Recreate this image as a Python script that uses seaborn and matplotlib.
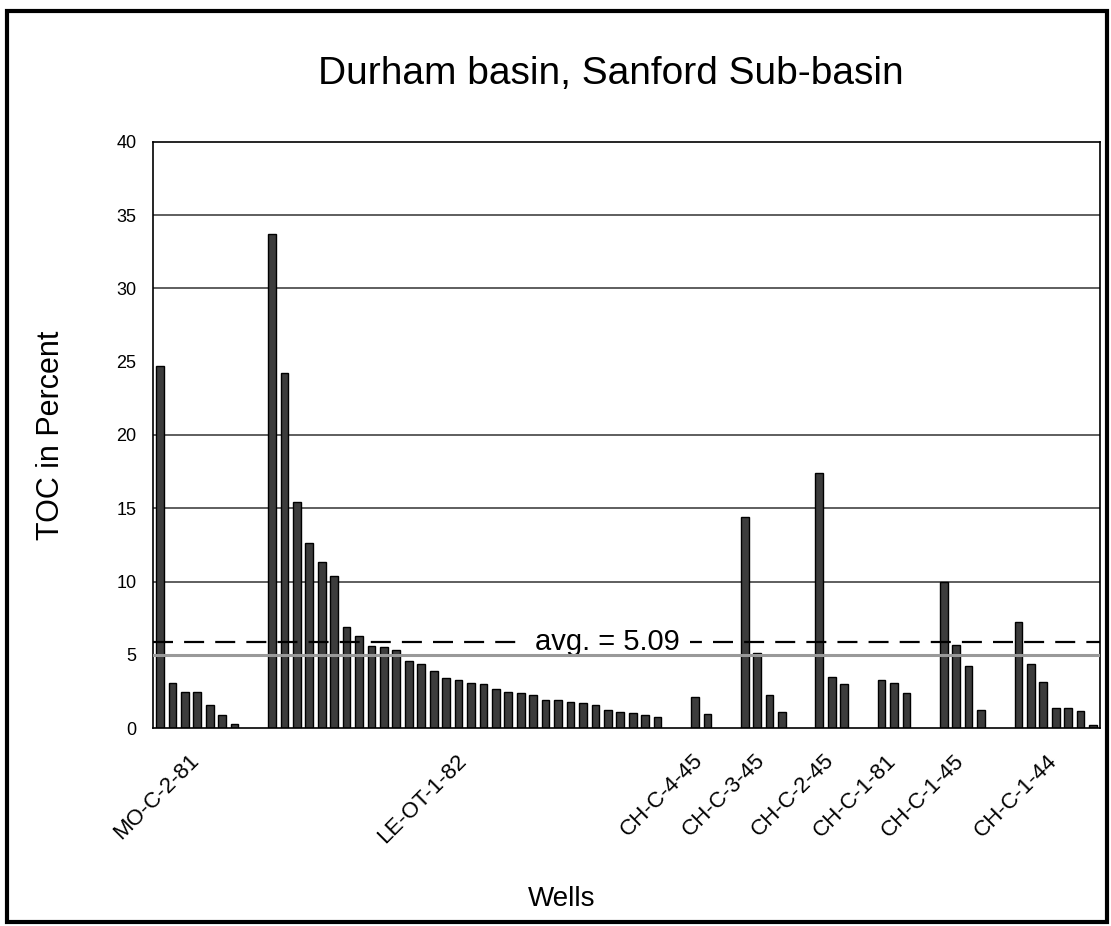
import numpy as np
import pandas as pd
import matplotlib.pyplot as plt
from matplotlib.patches import Rectangle
import seaborn as sns

sns.set_theme(style="white")
plt.rcParams["font.family"] = ["Liberation Sans", "DejaVu Sans"]
plt.rcParams.update({"text.color": "black", "axes.labelcolor": "black",
                     "xtick.color": "black", "ytick.color": "black"})

# TOC values (percent) per well
wells = ["MO-C-2-81", "LE-OT-1-82", "CH-C-4-45", "CH-C-3-45",
         "CH-C-2-45", "CH-C-1-81", "CH-C-1-45", "CH-C-1-44"]
mo_c_2_81 = [24.7, 3.05, 2.45, 2.45, 1.55, 0.9, 0.25]
le_ot_1_82 = [33.7, 24.2, 15.4, 12.6, 11.3, 10.4, 6.9, 6.3, 5.6, 5.5, 5.3,
              4.6, 4.4, 3.9, 3.4, 3.3, 3.05, 3.0, 2.65, 2.45, 2.4, 2.25,
              1.9, 1.9, 1.8, 1.7, 1.6, 1.25, 1.1, 1.0, 0.9, 0.75]
ch_c_4_45 = [2.1, 0.95]
ch_c_3_45 = [14.4, 5.1, 2.25, 1.1]
ch_c_2_45 = [17.4, 3.5, 3.0]
ch_c_1_81 = [3.3, 3.1, 2.4]
ch_c_1_45 = [10.0, 5.7, 4.2, 1.2]
ch_c_1_44 = [7.25, 4.4, 3.15, 1.4, 1.4, 1.15, 0.2]
groups = [mo_c_2_81, le_ot_1_82, ch_c_4_45, ch_c_3_45,
          ch_c_2_45, ch_c_1_81, ch_c_1_45, ch_c_1_44]

avg_line = 5.9
avg_label = "avg. = 5.09"
grid_levels = [10, 15, 20, 30, 35]

# lay the samples out one slot each, two empty slots between wells
rows = []
centers = []
slot = 0
for name, vals in zip(wells, groups):
    start = slot
    for v in vals:
        rows.append({"slot": slot, "toc": v, "well": name})
        slot += 1
    centers.append((start + slot - 1) / 2)
    slot += 2
df = pd.DataFrame(rows)
last = df["slot"].max()

fig = plt.figure(figsize=(11.11, 9.26), dpi=100)
ax = fig.add_axes([0.1377, 0.2138, 0.8524, 0.6329])

ax.hlines(grid_levels, -1, last + 1, color="#333333", lw=1.1, zorder=0)
ax.hlines([5], -1, last + 1, color="#999999", lw=2.2, zorder=5)

sns.barplot(data=df, x="slot", y="toc", native_scale=True, width=0.62,
            color="#3c3c3c", edgecolor="black", linewidth=1.0,
            saturation=1, ax=ax, zorder=2)

ax.axhline(avg_line, color="black", lw=1.6, ls=(0, (9, 5)), zorder=3)
ax.text(centers[1] + 11.5, avg_line, avg_label, fontsize=21, ha="center",
        va="center", zorder=4,
        bbox=dict(facecolor="white", edgecolor="none", pad=7))

ax.set_xlim(-0.56, last + 0.56)
ax.set_ylim(0, 40)
ax.set_yticks(np.arange(0, 41, 5))
ax.tick_params(axis="y", labelsize=13, length=0, pad=12)
ax.set_xticks([c - 0.7 for c in centers])
ax.set_xticklabels(wells, rotation=45, ha="right", va="top",
                   rotation_mode="anchor", fontsize=16)
ax.tick_params(axis="x", length=0, pad=16)
ax.set_xlabel("Wells", fontsize=20)
ax.xaxis.set_label_coords(0.432, -0.27)
ax.set_ylabel("TOC in Percent", fontsize=22)
ax.yaxis.set_label_coords(-0.092, 0.5)
for sp in ax.spines.values():
    sp.set_color("black")
    sp.set_linewidth(1.2)

fig.suptitle("Durham basin, Sanford Sub-basin", fontsize=28, x=0.55, y=0.94)

fig.patches.append(Rectangle((0.006, 0.004), 0.99, 0.984, transform=fig.transFigure,
                             fill=False, edgecolor="black", lw=3))

fig.savefig("out.png", dpi=100)
